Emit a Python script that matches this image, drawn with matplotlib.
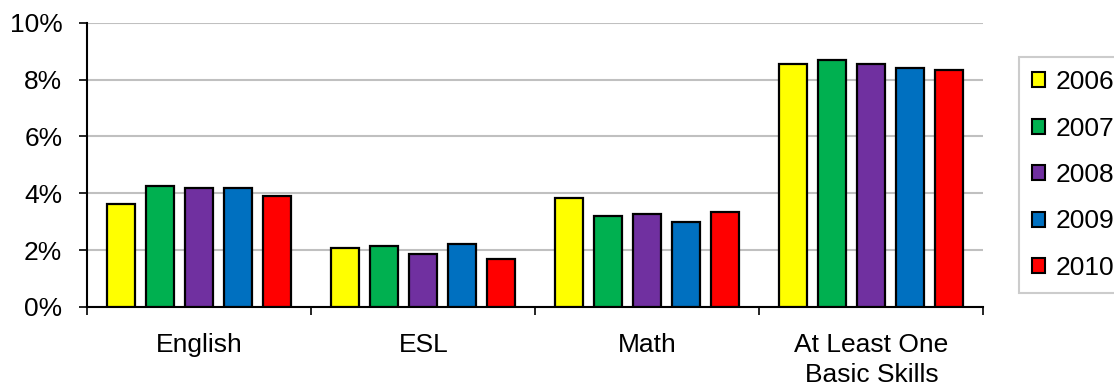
import matplotlib
matplotlib.use("Agg")
import matplotlib.pyplot as plt
import numpy as np
from matplotlib.patches import Patch
from matplotlib.ticker import FixedLocator, FuncFormatter

categories = ["English", "ESL", "Math", "At Least One\nBasic Skills"]
years = ["2006", "2007", "2008", "2009", "2010"]
values = {
    "2006": [3.63, 2.09, 3.83, 8.54],
    "2007": [4.27, 2.16, 3.20, 8.68],
    "2008": [4.19, 1.88, 3.28, 8.54],
    "2009": [4.19, 2.23, 3.00, 8.40],
    "2010": [3.90, 1.68, 3.35, 8.33],
}
colors = ["#FFFF00", "#00B050", "#7030A0", "#0070C0", "#FF0000"]

plt.rcParams['font.family'] = ['Liberation Sans', 'DejaVu Sans']
FS = 19
fig = plt.figure(figsize=(11.14, 3.86), dpi=100)
ax = fig.add_axes([0.0784, 0.2047, 0.8043, 0.7365])

centers = np.arange(len(categories)) + 0.5
step = 0.174
width = 0.125
for i, y in enumerate(years):
    ax.bar(centers + (i - 2) * step, values[y], width=width, color=colors[i],
           edgecolor="black", linewidth=1.6, zorder=3)

ax.set_xlim(0, len(categories))
ax.set_ylim(0, 10)
ax.set_yticks(np.arange(0, 11, 2))
ax.yaxis.set_major_formatter(FuncFormatter(lambda v, p: f"{v:.0f}%"))
ax.yaxis.grid(True, color="#C0C0C0", linewidth=1.5, zorder=0)
ax.set_axisbelow(True)

ax.xaxis.set_major_locator(FixedLocator(np.arange(0, len(categories) + 1)))
ax.xaxis.set_major_formatter(FuncFormatter(lambda v, p: ""))
ax.xaxis.set_minor_locator(FixedLocator(centers))
ax.set_xticklabels(categories, minor=True, linespacing=1.3)
ax.tick_params(axis="x", which="minor", length=0, pad=19, labelsize=FS)
ax.tick_params(axis="x", which="major", length=6, width=1.2, direction="out")
ax.tick_params(axis="y", length=6, width=1.2, direction="out", pad=12, labelsize=FS)

for s in ["top", "right"]:
    ax.spines[s].set_visible(False)
ax.spines["left"].set_linewidth(1.5)
ax.spines["bottom"].set_linewidth(1.5)

handles = [Patch(facecolor=c, edgecolor="black", linewidth=1.5) for c in colors]
leg = fig.legend(handles, years, loc="upper left", bbox_to_anchor=(1019 / 1114, 1 - 57 / 386),
                 fontsize=FS, frameon=True, fancybox=False, edgecolor="#C0C0C0",
                 handlelength=0.5, handleheight=0.5, handletextpad=0.4,
                 labelspacing=0.85, borderpad=0.5, borderaxespad=0)
leg.get_frame().set_linewidth(1.5)

fig.savefig("out.png", dpi=100)
